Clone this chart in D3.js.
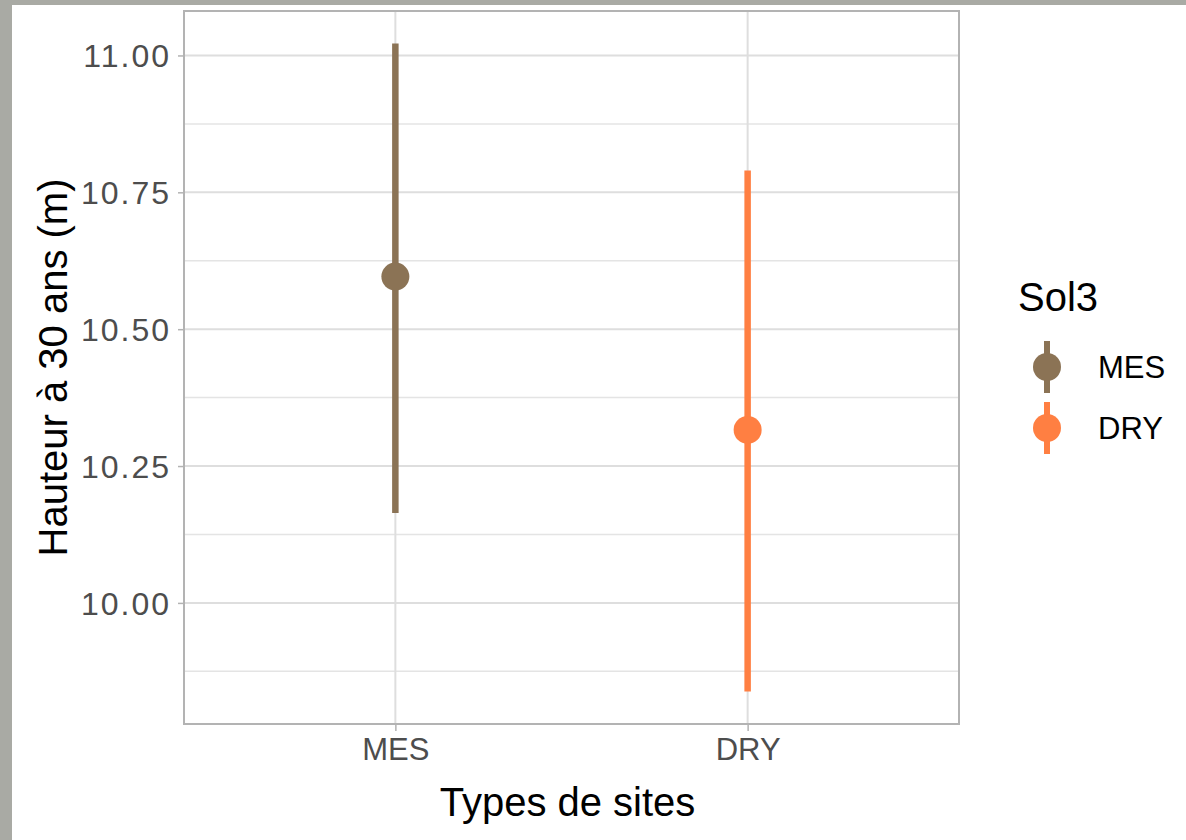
<!DOCTYPE html>
<html>
<head>
<meta charset="utf-8">
<script src="https://cdn.jsdelivr.net/npm/d3@7"></script>
<style>
  html, body { margin: 0; padding: 0; background: #ffffff; }
  svg { display: block; }
  text { font-family: "Liberation Sans", Arial, sans-serif; }
</style>
</head>
<body>
<svg id="chart" width="1186" height="840"></svg>
<script>
// Site types and the estimated height at 30 years (mean with interval bounds)
const categories = ["MES", "DRY"];
const means = [10.596, 10.316];
const lowers = [10.164, 9.838];
const uppers = [11.022, 10.790];
const colors = ["#8B7355", "#FF7F42"];
const yTicks = [10.00, 10.25, 10.50, 10.75, 11.00];
const yMinorTicks = [9.875, 10.125, 10.375, 10.625, 10.875];
const xTitle = "Types de sites";
const yTitle = "Hauteur à 30 ans (m)";
const legendTitle = "Sol3";

const svg = d3.select("#chart");
const W = 1186, H = 840;

// page frame
svg.append("rect").attr("x", 0).attr("y", 0).attr("width", W).attr("height", H).attr("fill", "#a9aaa4");
svg.append("rect").attr("x", 12).attr("y", 5).attr("width", W - 12).attr("height", H - 5).attr("fill", "#ffffff");

const panel = { left: 184, right: 959, top: 11, bottom: 724 };

// y range padded by 5% of the data extent
const dMin = d3.min(lowers), dMax = d3.max(uppers);
const pad = (dMax - dMin) * 0.05;
const y = d3.scaleLinear().domain([dMin - pad, dMax + pad]).range([panel.bottom, panel.top]);
const x = d3.scalePoint().domain(categories).range([panel.left, panel.right]).padding(0.6);

const g = svg.append("g");

// grid
g.selectAll(".minor").data(yMinorTicks).join("line")
  .attr("x1", panel.left).attr("x2", panel.right)
  .attr("y1", d => y(d)).attr("y2", d => y(d))
  .attr("stroke", "#e4e4e4").attr("stroke-width", 1.5);
g.selectAll(".major").data(yTicks).join("line")
  .attr("x1", panel.left).attr("x2", panel.right)
  .attr("y1", d => y(d)).attr("y2", d => y(d))
  .attr("stroke", "#dedede").attr("stroke-width", 2);
g.selectAll(".vmajor").data(categories).join("line")
  .attr("x1", d => x(d)).attr("x2", d => x(d))
  .attr("y1", panel.top).attr("y2", panel.bottom)
  .attr("stroke", "#dedede").attr("stroke-width", 2);

// axes (ticks and labels)
const yAxis = d3.axisLeft(y).tickValues(yTicks).tickFormat(d3.format(".2f")).tickSize(6).tickPadding(7);
const yG = svg.append("g").attr("transform", `translate(${panel.left},0)`).call(yAxis);
const xAxis = d3.axisBottom(x).tickSize(7).tickPadding(6);
const xG = svg.append("g").attr("transform", `translate(0,${panel.bottom})`).call(xAxis);
[yG, xG].forEach(a => {
  a.select(".domain").remove();
  a.selectAll(".tick line").attr("stroke", "#b3b3b3").attr("stroke-width", 1.5);
  a.selectAll(".tick text").attr("fill", "#4d4d4d").attr("font-size", 31)
    .style("font-family", "'Liberation Sans', Arial, sans-serif");
});
yG.selectAll(".tick text").attr("font-size", 32).attr("dy", "0.36em").style("letter-spacing", "2px");
xG.selectAll(".tick text").attr("dy", "0.75em");

// point ranges
const rows = categories.map((c, i) => ({ c, m: means[i], lo: lowers[i], hi: uppers[i], col: colors[i] }));
const marks = g.selectAll(".pr").data(rows).join("g");
marks.append("line")
  .attr("x1", d => x(d.c)).attr("x2", d => x(d.c))
  .attr("y1", d => y(d.lo)).attr("y2", d => y(d.hi))
  .attr("stroke", d => d.col).attr("stroke-width", 6.5);
marks.append("circle")
  .attr("cx", d => x(d.c)).attr("cy", d => y(d.m)).attr("r", 14)
  .attr("fill", d => d.col);

// panel border
svg.append("rect")
  .attr("x", panel.left).attr("y", panel.top)
  .attr("width", panel.right - panel.left).attr("height", panel.bottom - panel.top)
  .attr("fill", "none").attr("stroke", "#b3b3b3").attr("stroke-width", 2);

// axis titles
svg.append("text").attr("x", (panel.left + panel.right) / 2 - 4).attr("y", 816)
  .attr("text-anchor", "middle").attr("font-size", 40).attr("fill", "#000").text(xTitle);
svg.append("text")
  .attr("transform", `translate(67,${(panel.top + panel.bottom) / 2}) rotate(-90)`)
  .attr("text-anchor", "middle").attr("font-size", 40).attr("fill", "#000").text(yTitle);

// legend
const lg = svg.append("g");
lg.append("text").attr("x", 1018).attr("y", 311).attr("font-size", 40).attr("fill", "#000").text(legendTitle);
const keys = lg.selectAll(".key").data(rows).join("g")
  .attr("transform", (d, i) => `translate(1047,${367 + i * 61})`);
keys.append("line").attr("x1", 0).attr("x2", 0).attr("y1", -26).attr("y2", 26)
  .attr("stroke", d => d.col).attr("stroke-width", 6);
keys.append("circle").attr("r", 14).attr("fill", d => d.col);
keys.append("text").attr("x", 51).attr("y", 0).attr("dy", "0.36em")
  .attr("font-size", 31).attr("fill", "#000").text(d => d.c);
</script>
</body>
</html>
